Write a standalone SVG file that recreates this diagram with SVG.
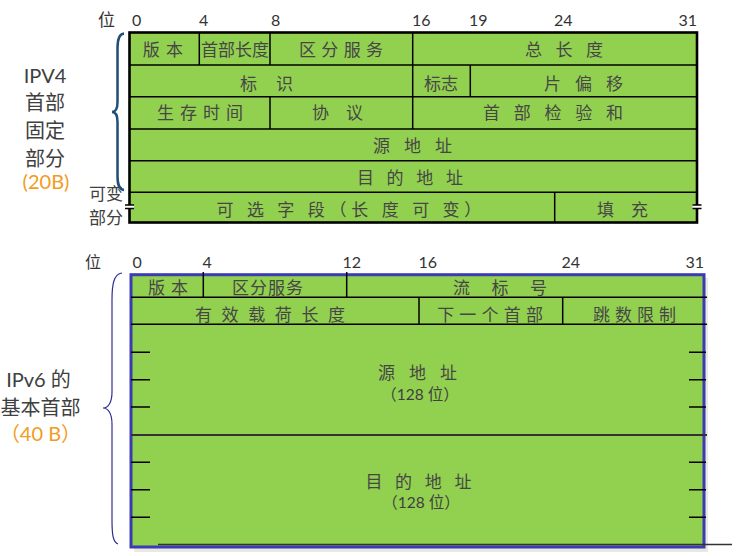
<svg xmlns="http://www.w3.org/2000/svg" width="739" height="556" viewBox="0 0 739 556">
<style>
.cell{font-family:"Noto Sans CJK SC",sans-serif;font-size:17px;fill:#464646;text-anchor:middle}
.cs{font-family:"Noto Sans CJK SC",sans-serif;font-size:17px;fill:#464646;text-anchor:start}
.bit{font-family:Lato,"Noto Sans CJK SC",sans-serif;font-size:16px;fill:#333}
.lbl{font-family:Lato,"Noto Sans CJK SC",sans-serif;font-size:20px;fill:#404040;text-anchor:middle}
.sml{font-family:Lato,"Noto Sans CJK SC",sans-serif;font-size:15.5px;fill:#404040;text-anchor:middle}
.org{fill:#f29b22}
.ln{stroke:#000;stroke-width:1.5;fill:none}
</style>
<rect width="739" height="556" fill="#fff"/>

<g id="ipv4-labels">
<text class="bit" x="98" y="25.5" style="font-size:17px">位</text>
<text class="bit" x="132" y="26">0</text>
<text class="bit" x="199" y="26">4</text>
<text class="bit" x="271" y="26">8</text>
<text class="bit" x="412" y="26">16</text>
<text class="bit" x="469" y="26">19</text>
<text class="bit" x="554" y="26">24</text>
<text class="bit" x="697" y="26" text-anchor="end">31</text>
<text class="lbl" x="45" y="83">IPV4</text>
<text class="lbl" x="45" y="110">首部</text>
<text class="lbl" x="45" y="138">固定</text>
<text class="lbl" x="45" y="166">部分</text>
<text class="lbl org" x="46" y="189">(20B)</text>
<text class="lbl" x="106" y="200" style="font-size:17px">可变</text>
<text class="lbl" x="106" y="223.5" style="font-size:17px">部分</text>
</g>

<g id="ipv4">
<rect x="129.5" y="32.5" width="567.5" height="190" fill="#92d050" stroke="#000" stroke-width="2.6"/>
<path class="ln" d="M129.5 65H697M129.5 96.7H697M129.5 129H697M129.5 160.7H697M129.5 192.3H697"/>
<path class="ln" d="M199.3 32.5V65M270 32.5V65M270 96.7V129M412.7 32.5V129M470.3 65V96.7M554.7 192.3V222.5"/>
<rect x="126" y="205" width="8" height="3.6" fill="#fff"/>
<rect x="692.5" y="205" width="9" height="3.6" fill="#fff"/>
<path class="ln" d="M125 205H134M125 208.6H134M692.5 205H701.5M692.5 208.6H701.5"/>
<g id="v4-row1">
<text class="cell" x="163.4" y="56" letter-spacing="1.2">版 本</text>
<text class="cell" x="235" y="56">首部长度</text>
<text class="cell" x="341.4" y="56" letter-spacing="0.75">区 分 服 务</text>
<text class="cell" x="566.4" y="56" letter-spacing="4.85">总 长 度</text>
</g>
<g id="v4-row2">
<text class="cell" x="270.3" y="90" letter-spacing="7.6">标 识</text>
<text class="cell" x="441" y="90">标志</text>
<text class="cell" x="586" y="90" letter-spacing="5.1">片 偏 移</text>
</g>
<g id="v4-row3">
<text class="cell" x="200.5" y="119" letter-spacing="1.1">生 存 时 间</text>
<text class="cell" x="340.8" y="119" letter-spacing="6.6">协 议</text>
<text class="cell" x="555.5" y="119" letter-spacing="5">首 部 检 验 和</text>
</g>
<g id="v4-row4">
<text class="cell" x="415" y="152" letter-spacing="5.1">源 地 址</text>
</g>
<g id="v4-row5">
<text class="cell" x="412.2" y="184" letter-spacing="4.45">目 的 地 址</text>
</g>
<g id="v4-row6">
<text class="cs" x="216.5" y="216" letter-spacing="4.8">可 选 字 段（长 度 可 变）</text>
<text class="cell" x="625.8" y="216" letter-spacing="6.6">填 充</text>
</g>
</g>

<g id="ipv6-labels">
<text class="bit" x="85" y="268">位</text>
<text class="bit" x="132.5" y="268">0</text>
<text class="bit" x="202.5" y="268">4</text>
<text class="bit" x="342.5" y="268">12</text>
<text class="bit" x="418.5" y="268">16</text>
<text class="bit" x="561.5" y="268">24</text>
<text class="bit" x="704" y="268" text-anchor="end">31</text>
<text class="lbl" x="38.5" y="387">IPv6 的</text>
<text class="lbl" x="40.5" y="415">基本首部</text>
<text class="lbl org" x="40.5" y="440.5">（40 B）</text>
</g>

<g id="ipv6">
<rect x="134" y="278" width="574" height="274" fill="#e9e9e1"/>
<rect x="131" y="274.7" width="573" height="272.3" fill="#92d050" stroke="#3b3bb4" stroke-width="3"/>
<path class="ln" d="M131 297.3H707M131 324.3H707"/>
<path d="M131 435H707" stroke="#333" stroke-width="2" fill="none"/>
<path d="M158 544.5H732" stroke="#333" stroke-width="1.5" fill="none"/>
<path class="ln" d="M203.3 272V297.3M346.7 272V297.3M419 297.3V324.3M562.7 297.3V324.3"/>
<path class="ln" d="M131 352.3H150M131 379.7H150M131 407H150M131 462.3H150M131 489.7H150M131 517.3H150"/>
<path class="ln" d="M689 352.3H706M689 379.7H706M689 407H706M689 462.3H706M689 489.7H706M689 517.3H706"/>
<g id="v6-row1">
<text class="cell" x="168.5" y="294" letter-spacing="1.1">版 本</text>
<text class="cell" x="268" y="294" letter-spacing="1">区分服务</text>
<text class="cell" x="504.4" y="294" letter-spacing="8.85">流 标 号</text>
</g>
<g id="v6-row2">
<text class="cell" x="271.5" y="321" letter-spacing="2.9">有 效 载 荷 长 度</text>
<text class="cell" x="490.4" y="321" letter-spacing="0.7">下 一 个 首 部</text>
<text class="cell" x="634.8" y="321" letter-spacing="0.6">跳 数 限 制</text>
</g>
<g id="v6-src">
<text class="cell" x="420" y="378.5" letter-spacing="5.1">源 地 址</text>
<text class="sml" x="420" y="400">（128 位）</text>
</g>
<g id="v6-dst">
<text class="cell" x="420.7" y="487.5" letter-spacing="4.45">目 的 地 址</text>
<text class="sml" x="421" y="507.5">（128 位）</text>
</g>
</g>

<g id="connectors">
<path d="M124 33.5C118.5 34 117.5 40 117.5 48V102C117.5 108 116 112 112 112C116 112 117.5 116 117.5 122V176C117.5 184 118.5 189.5 124 190" fill="none" stroke="#1f4e79" stroke-width="2.5"/>
<path d="M122 273C113.5 274 112 285 112 300V392C112 402 108.5 408 103 408C108.5 408 112 414 112 424V520C112 535 113 542 118 544" fill="none" stroke="#2f2f8f" stroke-width="1.2"/>
</g>
</svg>
